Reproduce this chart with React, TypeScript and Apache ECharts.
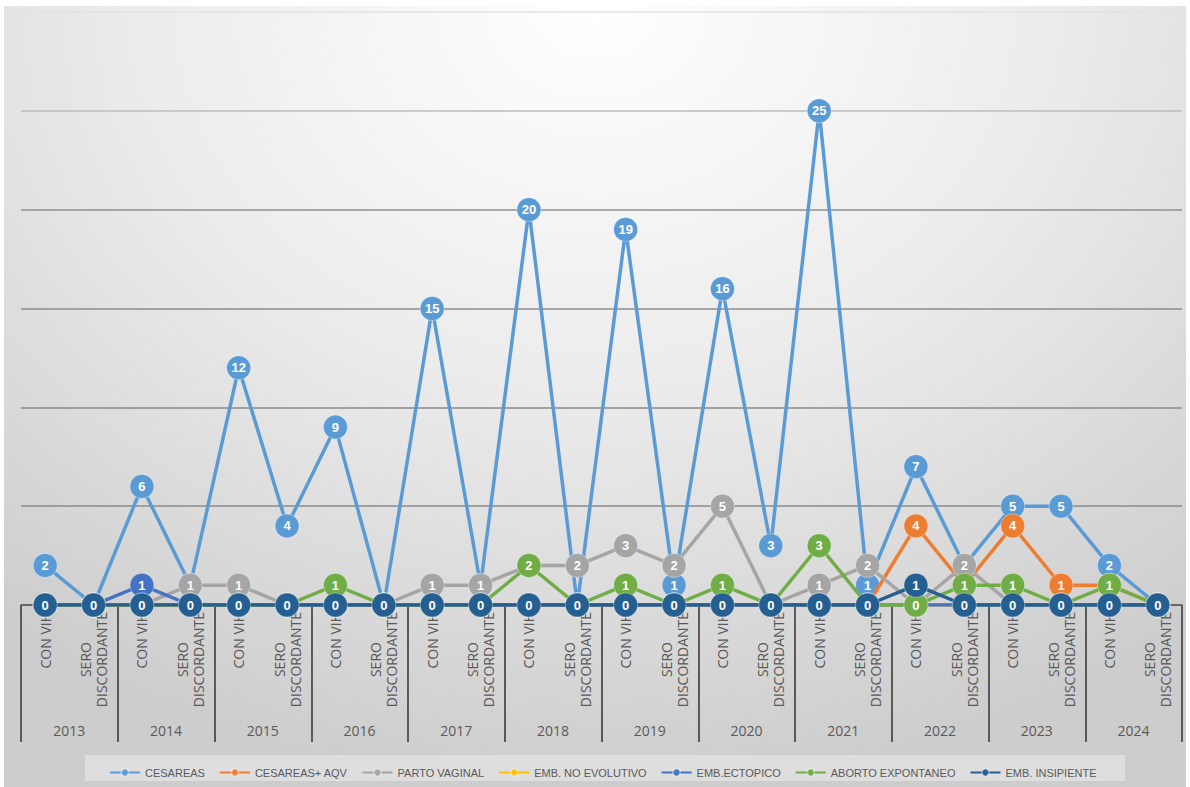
import React, { useEffect, useRef } from "react";
import * as echarts from "echarts";

const years = ["2013", "2014", "2015", "2016", "2017", "2018", "2019", "2020", "2021", "2022", "2023", "2024"];
const subCategories = ["CON VIH", "SERO\nDISCORDANTE"];
const categories: string[] = years.flatMap(() => subCategories);

const seriesNames = [
  "CESAREAS",
  "CESAREAS+ AQV",
  "PARTO VAGINAL",
  "EMB. NO EVOLUTIVO",
  "EMB.ECTOPICO",
  "ABORTO EXPONTANEO",
  "EMB. INSIPIENTE",
];
const seriesColors = ["#5B9BD5", "#ED7D31", "#A5A5A5", "#FFC000", "#4472C4", "#70AD47", "#255E91"];

const cesareas = [2, 0, 6, 1, 12, 4, 9, 0, 15, 1, 20, 0, 19, 1, 16, 3, 25, 1, 7, 2, 5, 5, 2, 0];
const cesareasAqv = [0, 0, 0, 0, 0, 0, 0, 0, 0, 0, 0, 0, 0, 0, 0, 0, 0, 0, 4, 1, 4, 1, 1, 0];
const partoVaginal = [0, 0, 0, 1, 1, 0, 0, 0, 1, 1, 2, 2, 3, 2, 5, 0, 1, 2, 0, 2, 0, 0, 0, 0];
const embNoEvolutivo = [0, 0, 0, 0, 0, 0, 0, 0, 0, 0, 0, 0, 0, 0, 0, 0, 0, 0, 0, 0, 0, 0, 0, 0];
const embEctopico = [0, 0, 1, 0, 0, 0, 0, 0, 0, 0, 0, 0, 0, 0, 0, 0, 0, 0, 0, 0, 0, 0, 0, 0];
const abortoExpontaneo = [0, 0, 0, 0, 0, 0, 1, 0, 0, 0, 2, 0, 1, 0, 1, 0, 3, 0, 0, 1, 1, 0, 1, 0];
const embInsipiente = [0, 0, 0, 0, 0, 0, 0, 0, 0, 0, 0, 0, 0, 0, 0, 0, 0, 0, 1, 0, 0, 0, 0, 0];

const seriesValues = [cesareas, cesareasAqv, partoVaginal, embNoEvolutivo, embEctopico, abortoExpontaneo, embInsipiente];

export default function App() {
  const ref = useRef<HTMLDivElement>(null);

  useEffect(() => {
    document.body.style.margin = "0";
    if (!ref.current) return;
    const chart = echarts.init(ref.current, null, { renderer: "svg" });

    const series = seriesNames.map((name, i) => ({
      name,
      type: "line",
      xAxisIndex: 0,
      yAxisIndex: 0,
      data: seriesValues[i],
      symbol: "circle",
      symbolSize: 24,
      z: 2 + i,
      lineStyle: { color: seriesColors[i], width: 3.5 },
      itemStyle: { color: seriesColors[i], borderColor: "rgba(255,255,255,0.35)", borderWidth: 1 },
      label: {
        show: true,
        position: "inside",
        color: "#ffffff",
        fontWeight: "bold",
        fontSize: 13,
        fontFamily: "Liberation Sans, sans-serif",
      },
      emphasis: { disabled: true },
    }));

    const axisTextStyle = {
      color: "#595959",
      fontSize: 14,
      lineHeight: 16,
      fontFamily: "Open Sans, sans-serif",
      align: "center",
    };

    chart.setOption({
      animation: false,
      backgroundColor: "transparent",
      grid: { left: 21, right: 8, top: 12, bottom: 182, containLabel: false },
      graphic: [
        {
          type: "rect",
          left: 85,
          top: 755,
          shape: { width: 1040, height: 26 },
          style: { fill: "#dedede" },
          z: -1,
        },
      ],
      legend: {
        data: seriesNames,
        left: 104,
        top: 762,
        width: 1040,
        itemWidth: 30,
        itemHeight: 9,
        itemGap: 14,
        textStyle: {
          color: "#595959",
          fontSize: 11,
          fontFamily: "Liberation Sans, sans-serif",
        },
      },
      xAxis: [
        {
          type: "category",
          data: categories,
          boundaryGap: true,
          position: "bottom",
          axisLine: { show: true, lineStyle: { color: "#595959", width: 1.5 } },
          axisTick: { show: false },
          axisLabel: {
            interval: 0,
            rotate: 90,
            margin: 7,
            color: "#595959",
            fontSize: 14,
            lineHeight: 16,
            fontFamily: "Open Sans, sans-serif",
            formatter: (v: string) =>
              v
                .split("\n")
                .map((line) => `{a|${line}}`)
                .join("\n"),
            rich: { a: axisTextStyle },
          },
        },
        {
          type: "category",
          data: years,
          boundaryGap: true,
          position: "bottom",
          axisLine: { show: false },
          axisTick: { show: true, length: 137, lineStyle: { color: "#595959", width: 2 } },
          axisLabel: {
            interval: 0,
            margin: 118,
            color: "#595959",
            fontSize: 14,
            fontFamily: "Open Sans, sans-serif",
          },
        },
      ],
      yAxis: {
        type: "value",
        min: 0,
        max: 30,
        interval: 5,
        axisLine: { show: false },
        axisTick: { show: false },
        axisLabel: { show: false },
        splitLine: {
          show: true,
          lineStyle: {
            color: ["#7f7f7f", "#8a8a8a", "#8a8a8a", "#8c8c8c", "#909090", "#bdbdbd", "#e2e2e2"],
            width: 1.5,
          },
        },
      },
      series,
    });

    return () => chart.dispose();
  }, []);

  return (
    <div style={{ position: "relative", width: 1190, height: 787, background: "#ffffff", overflow: "hidden" }}>
      <div
        style={{
          position: "absolute",
          left: 4,
          top: 6,
          width: 1182,
          height: 781,
          background:
            "radial-gradient(ellipse 80% 100% at 50% 0%, #ffffff 0%, #ebebeb 50%, #cdcdcd 100%)",
        }}
      />
      <div ref={ref} style={{ position: "absolute", left: 0, top: 0, width: 1190, height: 787 }} />
    </div>
  );
}
